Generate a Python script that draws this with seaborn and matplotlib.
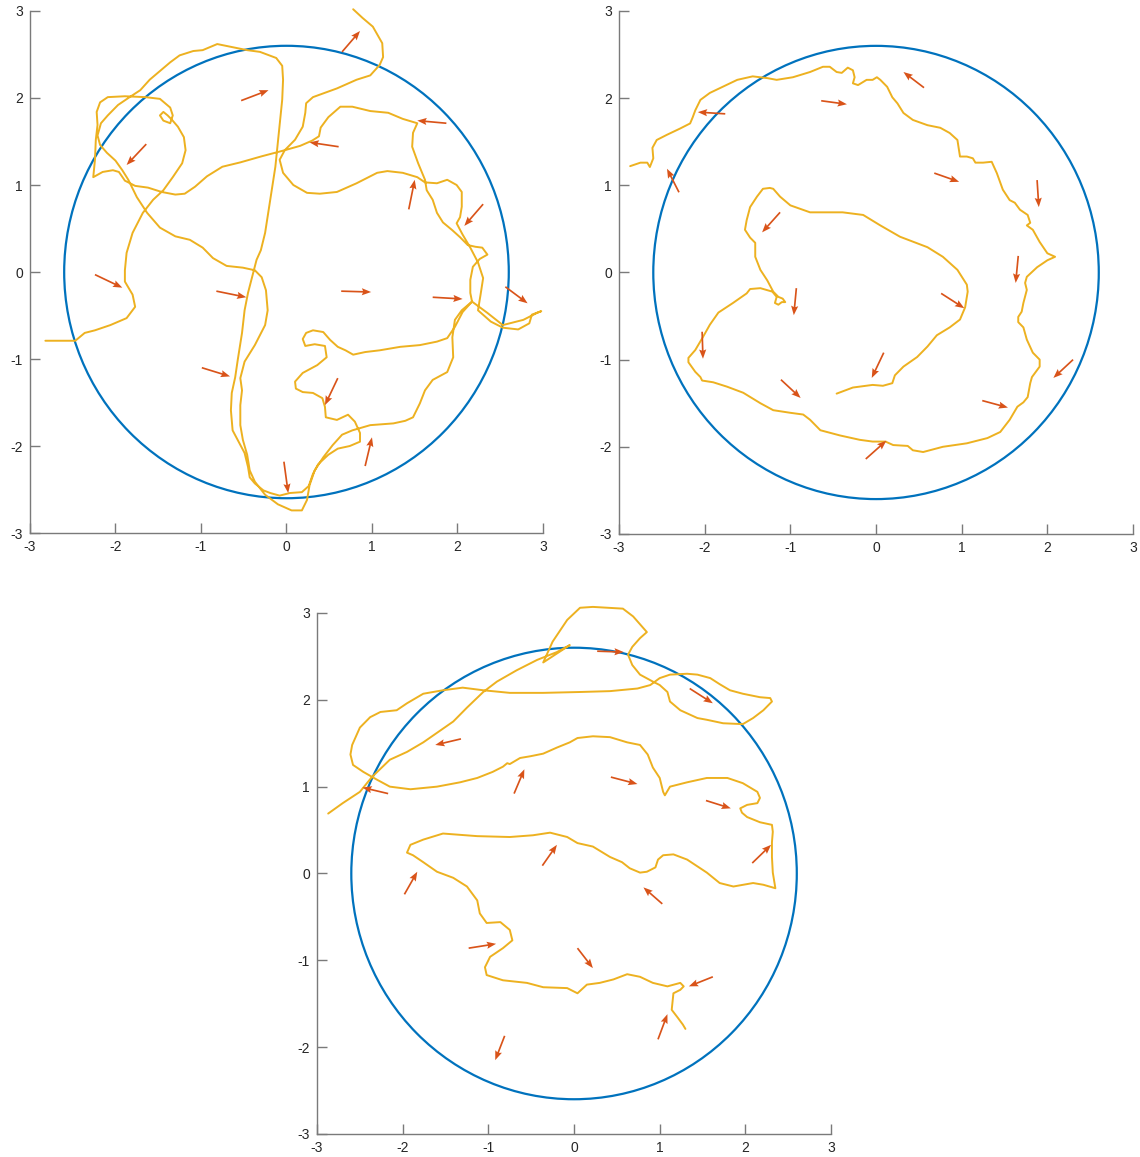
import numpy as np
import matplotlib
matplotlib.use("Agg")
import matplotlib.pyplot as plt
from matplotlib.patches import Circle
import seaborn as sns

# ---------------------------------------------------------------- data
RADIUS = 2.6
TICKS = [-3, -2, -1, 0, 1, 2, 3]

# trajectory, panel 1 (top left)
path_a = [
    (-2.82, -0.79), (-2.47, -0.79), (-2.36, -0.70), (-2.24, -0.67), (-2.06, -0.61),
    (-1.87, -0.53), (-1.77, -0.40), (-1.80, -0.26), (-1.89, -0.11), (-1.89, 0.02),
    (-1.87, 0.22), (-1.80, 0.45), (-1.68, 0.68), (-1.56, 0.83), (-1.44, 0.94),
    (-1.33, 1.09), (-1.22, 1.25), (-1.18, 1.40), (-1.20, 1.55), (-1.27, 1.67),
    (-1.34, 1.75), (-1.39, 1.80), (-1.44, 1.84), (-1.48, 1.80), (-1.44, 1.74),
    (-1.36, 1.71), (-1.33, 1.80), (-1.36, 1.89), (-1.42, 1.94), (-1.48, 1.99),
    (-1.65, 2.01), (-1.89, 2.02), (-2.09, 2.01), (-2.18, 1.95), (-2.22, 1.84),
    (-2.21, 1.69), (-2.23, 1.52), (-2.24, 1.29), (-2.26, 1.09), (-2.15, 1.15),
    (-2.03, 1.17), (-1.96, 1.15), (-1.89, 1.05), (-1.77, 0.99), (-1.62, 0.97),
    (-1.46, 0.92), (-1.30, 0.89), (-1.19, 0.90), (-1.07, 0.98), (-0.93, 1.10),
    (-0.75, 1.21), (-0.54, 1.26), (-0.29, 1.33), (-0.02, 1.40), (0.16, 1.45),
    (0.30, 1.51), (0.38, 1.56), (0.40, 1.66), (0.49, 1.78), (0.63, 1.90),
    (0.77, 1.90), (0.98, 1.85), (1.19, 1.83), (1.36, 1.76), (1.53, 1.71),
    (1.48, 1.60), (1.47, 1.44), (1.54, 1.25), (1.62, 1.06), (1.64, 0.94),
    (1.71, 0.83), (1.76, 0.68), (1.83, 0.57), (1.94, 0.48), (2.03, 0.40),
    (2.12, 0.31), (2.21, 0.29), (2.29, 0.28), (2.35, 0.20), (2.26, 0.15),
    (2.18, 0.06), (2.15, -0.09), (2.15, -0.24), (2.17, -0.34), (2.06, -0.46),
    (1.97, -0.63), (1.88, -0.76), (1.76, -0.80), (1.56, -0.84), (1.33, -0.86),
    (1.09, -0.90), (0.92, -0.92), (0.78, -0.95), (0.69, -0.90), (0.60, -0.86),
    (0.51, -0.78), (0.43, -0.69), (0.31, -0.67), (0.23, -0.70), (0.19, -0.77),
    (0.22, -0.85), (0.33, -0.83), (0.45, -0.85), (0.47, -0.98), (0.36, -1.07),
    (0.19, -1.16), (0.10, -1.26), (0.11, -1.34), (0.19, -1.38), (0.31, -1.39),
    (0.42, -1.45), (0.45, -1.55), (0.46, -1.67), (0.59, -1.70), (0.72, -1.64),
    (0.80, -1.72), (0.86, -1.85), (0.86, -1.95), (0.74, -2.00), (0.60, -2.03),
    (0.49, -2.10), (0.37, -2.21), (0.31, -2.32), (0.26, -2.46), (0.18, -2.53),
    (0.04, -2.54), (-0.08, -2.57), (-0.19, -2.54), (-0.27, -2.51), (-0.37, -2.43),
    (-0.43, -2.36), (-0.45, -2.24), (-0.49, -2.08), (-0.57, -1.93), (-0.63, -1.82),
    (-0.65, -1.59), (-0.64, -1.39), (-0.60, -1.21), (-0.57, -1.01), (-0.52, -0.70),
    (-0.49, -0.44), (-0.45, -0.24), (-0.39, -0.01), (-0.35, 0.14), (-0.30, 0.25),
    (-0.25, 0.45), (-0.19, 0.83), (-0.13, 1.21), (-0.09, 1.60), (-0.05, 1.98),
    (-0.04, 2.21), (-0.05, 2.37), (-0.12, 2.46), (-0.31, 2.53), (-0.46, 2.55),
    (-0.66, 2.59), (-0.81, 2.62), (-0.98, 2.55), (-1.09, 2.54), (-1.25, 2.49),
    (-1.36, 2.41), (-1.48, 2.31), (-1.60, 2.21), (-1.71, 2.09), (-1.85, 2.00),
    (-1.97, 1.92), (-2.09, 1.80), (-2.17, 1.71), (-2.21, 1.57), (-2.18, 1.46),
    (-2.10, 1.37), (-2.00, 1.28), (-1.92, 1.17), (-1.85, 1.06), (-1.75, 0.86),
    (-1.63, 0.68), (-1.48, 0.51), (-1.30, 0.41), (-1.13, 0.37), (-0.98, 0.28),
    (-0.86, 0.16), (-0.70, 0.07), (-0.51, 0.05), (-0.37, 0.02), (-0.29, -0.06),
    (-0.24, -0.21), (-0.22, -0.44), (-0.25, -0.61), (-0.37, -0.84), (-0.49, -1.03),
    (-0.54, -1.22), (-0.52, -1.36), (-0.54, -1.53), (-0.54, -1.76), (-0.51, -1.93),
    (-0.46, -2.10), (-0.43, -2.28), (-0.37, -2.41), (-0.25, -2.56), (-0.10, -2.67),
    (0.06, -2.74), (0.18, -2.74), (0.24, -2.62), (0.27, -2.45), (0.33, -2.28),
    (0.43, -2.13), (0.54, -1.99), (0.65, -1.87), (0.77, -1.82), (0.98, -1.76),
    (1.25, -1.74), (1.39, -1.71), (1.48, -1.67), (1.56, -1.51), (1.62, -1.36),
    (1.71, -1.24), (1.88, -1.15), (1.95, -0.98), (1.94, -0.75), (1.97, -0.55),
    (2.05, -0.44), (2.17, -0.34), (2.35, -0.47), (2.53, -0.61), (2.77, -0.55),
    (2.93, -0.47), (2.98, -0.45), (2.87, -0.49), (2.84, -0.59), (2.71, -0.66),
    (2.53, -0.64), (2.39, -0.57), (2.24, -0.44), (2.27, -0.26), (2.30, -0.07),
    (2.24, 0.11), (2.15, 0.28), (2.06, 0.43), (1.99, 0.56), (2.03, 0.63),
    (2.05, 0.75), (2.05, 0.92), (1.99, 1.00), (1.88, 1.06), (1.76, 1.02),
    (1.62, 1.03), (1.53, 1.09), (1.36, 1.14), (1.18, 1.16), (1.06, 1.14),
    (0.82, 1.02), (0.59, 0.92), (0.39, 0.90), (0.24, 0.91), (0.08, 1.00),
    (-0.04, 1.14), (-0.08, 1.29), (-0.02, 1.40), (0.10, 1.52), (0.19, 1.67),
    (0.22, 1.83), (0.23, 1.94), (0.31, 2.01), (0.59, 2.11), (0.82, 2.21),
    (0.98, 2.26), (1.09, 2.38), (1.13, 2.47), (1.12, 2.63), (1.01, 2.82),
    (0.89, 2.92), (0.78, 3.02),
]

# trajectory, panel 2 (top right)
path_b = [
    (-2.87, 1.22), (-2.75, 1.26), (-2.67, 1.26), (-2.64, 1.21), (-2.60, 1.31),
    (-2.61, 1.43), (-2.56, 1.52), (-2.44, 1.58), (-2.29, 1.65), (-2.17, 1.71),
    (-2.14, 1.78), (-2.11, 1.86), (-2.05, 1.98), (-1.94, 2.06), (-1.79, 2.13),
    (-1.62, 2.21), (-1.44, 2.25), (-1.27, 2.23), (-1.16, 2.21), (-0.97, 2.24),
    (-0.77, 2.30), (-0.62, 2.36), (-0.54, 2.36), (-0.46, 2.30), (-0.40, 2.29),
    (-0.33, 2.35), (-0.27, 2.32), (-0.25, 2.24), (-0.27, 2.17), (-0.21, 2.15),
    (-0.11, 2.21), (-0.04, 2.21), (0.01, 2.24), (0.05, 2.21), (0.13, 2.13),
    (0.19, 2.01), (0.25, 1.94), (0.32, 1.83), (0.43, 1.75), (0.60, 1.69),
    (0.75, 1.66), (0.86, 1.60), (0.95, 1.52), (0.98, 1.33), (1.06, 1.33),
    (1.13, 1.31), (1.16, 1.26), (1.25, 1.26), (1.35, 1.27), (1.41, 1.14),
    (1.48, 0.95), (1.56, 0.83), (1.62, 0.80), (1.68, 0.72), (1.77, 0.66),
    (1.80, 0.57), (1.76, 0.54), (1.83, 0.49), (1.91, 0.35), (2.00, 0.22),
    (2.09, 0.18), (2.00, 0.14), (1.88, 0.06), (1.76, -0.05), (1.74, -0.12),
    (1.76, -0.20), (1.72, -0.35), (1.70, -0.45), (1.66, -0.51), (1.66, -0.57),
    (1.72, -0.63), (1.76, -0.77), (1.83, -0.92), (1.91, -1.00), (1.91, -1.08),
    (1.82, -1.20), (1.80, -1.27), (1.77, -1.43), (1.72, -1.49), (1.65, -1.54),
    (1.56, -1.69), (1.45, -1.83), (1.30, -1.90), (1.06, -1.96), (0.78, -2.00),
    (0.55, -2.06), (0.43, -2.04), (0.37, -1.99), (0.20, -1.98), (0.11, -1.94),
    (-0.04, -1.94), (-0.19, -1.92), (-0.42, -1.87), (-0.65, -1.81), (-0.77, -1.69),
    (-0.85, -1.63), (-1.00, -1.61), (-1.20, -1.58), (-1.35, -1.50), (-1.55, -1.38),
    (-1.74, -1.31), (-1.90, -1.26), (-2.03, -1.24), (-2.05, -1.20), (-2.11, -1.14),
    (-2.19, -1.03), (-2.19, -0.98), (-2.11, -0.89), (-2.02, -0.74), (-1.94, -0.60),
    (-1.84, -0.46), (-1.67, -0.35), (-1.51, -0.24), (-1.47, -0.19), (-1.35, -0.18),
    (-1.21, -0.22), (-1.16, -0.28), (-1.18, -0.35), (-1.14, -0.37), (-1.10, -0.34),
    (-1.06, -0.34), (-1.09, -0.30), (-1.14, -0.28), (-1.20, -0.22), (-1.27, -0.09),
    (-1.35, 0.03), (-1.41, 0.18), (-1.41, 0.34), (-1.47, 0.40), (-1.53, 0.49),
    (-1.51, 0.60), (-1.47, 0.75), (-1.39, 0.87), (-1.32, 0.96), (-1.24, 0.97),
    (-1.20, 0.96), (-1.12, 0.87), (-1.00, 0.77), (-0.77, 0.69), (-0.39, 0.69),
    (-0.15, 0.66), (0.05, 0.54), (0.28, 0.41), (0.60, 0.29), (0.78, 0.18),
    (0.95, 0.03), (1.06, -0.14), (1.07, -0.22), (1.04, -0.40), (0.98, -0.54),
    (0.86, -0.63), (0.71, -0.72), (0.60, -0.85), (0.48, -0.97), (0.32, -1.08),
    (0.22, -1.18), (0.19, -1.27), (0.08, -1.30), (-0.04, -1.29), (-0.19, -1.31),
    (-0.27, -1.32), (-0.46, -1.39),
]

# trajectory, panel 3 (bottom)
path_c = [
    (-2.87, 0.69), (-2.70, 0.81), (-2.50, 0.94), (-2.36, 1.11), (-2.15, 1.31),
    (-1.95, 1.40), (-1.76, 1.51), (-1.60, 1.62), (-1.41, 1.75), (-1.25, 1.91),
    (-1.06, 2.09), (-0.90, 2.21), (-0.67, 2.34), (-0.43, 2.46), (-0.20, 2.55),
    (-0.05, 2.63), (-0.36, 2.43), (-0.25, 2.67), (-0.08, 2.92), (0.07, 3.06),
    (0.22, 3.07), (0.57, 3.05), (0.69, 2.96), (0.85, 2.78), (0.77, 2.71),
    (0.68, 2.61), (0.63, 2.52), (0.68, 2.40), (0.77, 2.29), (0.92, 2.21),
    (1.00, 2.17), (1.09, 2.09), (1.12, 1.98), (1.24, 1.88), (1.44, 1.79),
    (1.55, 1.77), (1.74, 1.73), (1.97, 1.72), (2.09, 1.79), (2.21, 1.88),
    (2.31, 1.98), (2.29, 2.02), (2.17, 2.03), (1.97, 2.07), (1.82, 2.11),
    (1.70, 2.18), (1.59, 2.25), (1.44, 2.29), (1.32, 2.30), (1.12, 2.29),
    (1.00, 2.25), (0.89, 2.17), (0.74, 2.13), (0.42, 2.10), (0.07, 2.09),
    (-0.36, 2.08), (-0.75, 2.08), (-1.06, 2.11), (-1.30, 2.14), (-1.53, 2.11),
    (-1.76, 2.07), (-1.95, 1.96), (-2.07, 1.88), (-2.26, 1.86), (-2.38, 1.80),
    (-2.50, 1.68), (-2.59, 1.48), (-2.61, 1.37), (-2.58, 1.25), (-2.46, 1.17),
    (-2.30, 1.08), (-2.15, 1.00), (-1.91, 0.97), (-1.60, 1.00), (-1.33, 1.05),
    (-1.13, 1.10), (-0.95, 1.17), (-0.83, 1.23), (-0.78, 1.27), (-0.75, 1.26),
    (-0.63, 1.33), (-0.51, 1.35), (-0.36, 1.38), (-0.20, 1.45), (-0.05, 1.51),
    (0.04, 1.56), (0.22, 1.58), (0.42, 1.57), (0.62, 1.51), (0.77, 1.48),
    (0.86, 1.37), (0.92, 1.22), (1.00, 1.10), (1.04, 0.94), (1.06, 0.90),
    (1.12, 1.00), (1.32, 1.05), (1.55, 1.10), (1.79, 1.10), (1.97, 1.04),
    (2.14, 0.94), (2.17, 0.87), (2.14, 0.81), (2.02, 0.79), (1.94, 0.75),
    (1.96, 0.70), (2.02, 0.65), (2.17, 0.59), (2.31, 0.56), (2.32, 0.48),
    (2.31, 0.36), (2.31, 0.19), (2.32, 0.01), (2.35, -0.17), (2.21, -0.13),
    (2.09, -0.11), (1.86, -0.15), (1.70, -0.11), (1.55, 0.01), (1.32, 0.16),
    (1.16, 0.22), (1.04, 0.21), (0.98, 0.16), (0.95, 0.07), (0.85, 0.02),
    (0.77, 0.01), (0.65, 0.06), (0.56, 0.13), (0.42, 0.19), (0.22, 0.31),
    (0.04, 0.35), (-0.08, 0.42), (-0.28, 0.47), (-0.48, 0.44), (-0.75, 0.42),
    (-1.13, 0.43), (-1.53, 0.46), (-1.76, 0.39), (-1.91, 0.33), (-1.95, 0.24),
    (-1.88, 0.21), (-1.76, 0.13), (-1.60, 0.02), (-1.41, -0.05), (-1.25, -0.15),
    (-1.13, -0.31), (-1.10, -0.46), (-1.02, -0.57), (-0.86, -0.56), (-0.75, -0.65),
    (-0.72, -0.77), (-0.83, -0.86), (-0.98, -0.96), (-1.04, -1.08), (-1.02, -1.17),
    (-0.83, -1.23), (-0.55, -1.26), (-0.36, -1.31), (-0.08, -1.32), (0.04, -1.38),
    (0.15, -1.28), (0.30, -1.26), (0.46, -1.22), (0.62, -1.16), (0.77, -1.19),
    (0.92, -1.26), (1.09, -1.30), (1.24, -1.26), (1.28, -1.30), (1.24, -1.34),
    (1.16, -1.38), (1.14, -1.57), (1.21, -1.66), (1.27, -1.74), (1.30, -1.79),
]

# arrows: tail (x, y) and head (x, y)
arrows_a = [
    ((0.65, 2.53), (0.86, 2.77)), ((-0.53, 1.97), (-0.21, 2.09)),
    ((-1.64, 1.47), (-1.87, 1.23)), ((0.61, 1.44), (0.27, 1.49)),
    ((1.87, 1.71), (1.53, 1.74)), ((1.43, 0.72), (1.50, 1.06)),
    ((2.30, 0.78), (2.08, 0.53)), ((-2.24, -0.03), (-1.92, -0.18)),
    ((-0.82, -0.22), (-0.47, -0.29)), ((0.64, -0.22), (0.99, -0.23)),
    ((1.71, -0.29), (2.06, -0.31)), ((2.56, -0.17), (2.82, -0.36)),
    ((-0.99, -1.10), (-0.66, -1.20)), ((0.60, -1.22), (0.45, -1.53)),
    ((0.92, -2.23), (1.00, -1.90)), ((-0.03, -2.18), (0.02, -2.54)),
]
arrows_b = [
    ((-1.76, 1.82), (-2.08, 1.84)), ((-0.64, 1.97), (-0.34, 1.93)),
    ((-2.30, 0.92), (-2.44, 1.19)), ((-1.12, 0.69), (-1.33, 0.46)),
    ((0.56, 2.12), (0.32, 2.30)), ((0.68, 1.14), (0.97, 1.04)),
    ((1.88, 1.06), (1.90, 0.75)), ((1.66, 0.19), (1.63, -0.12)),
    ((-0.93, -0.18), (-0.96, -0.49)), ((-2.03, -0.68), (-2.02, -0.99)),
    ((-1.11, -1.23), (-0.88, -1.44)), ((-0.12, -2.14), (0.12, -1.93)),
    ((0.09, -0.92), (-0.05, -1.21)), ((0.76, -0.24), (1.03, -0.41)),
    ((2.30, -1.00), (2.07, -1.21)), ((1.24, -1.47), (1.54, -1.55)),
]
arrows_c = [
    ((-2.17, 0.92), (-2.47, 0.99)), ((-1.32, 1.55), (-1.62, 1.48)),
    ((-0.70, 0.92), (-0.58, 1.20)), ((0.27, 2.56), (0.58, 2.55)),
    ((1.35, 2.13), (1.62, 1.96)), ((0.43, 1.11), (0.74, 1.03)),
    ((1.54, 0.84), (1.83, 0.75)), ((2.08, 0.12), (2.30, 0.33)),
    ((-1.98, -0.24), (-1.83, 0.02)), ((-0.37, 0.09), (-0.20, 0.33)),
    ((-1.23, -0.86), (-0.91, -0.81)), ((-0.81, -1.87), (-0.92, -2.15)),
    ((1.03, -0.35), (0.81, -0.16)), ((0.04, -0.86), (0.22, -1.09)),
    ((1.62, -1.19), (1.34, -1.30)), ((0.98, -1.91), (1.09, -1.62)),
]

# ---------------------------------------------------------------- style
CIRCLE_COLOR = "#0072BD"
PATH_COLOR = "#EDB120"
ARROW_COLOR = "#D95319"
AXIS_GRAY = "#7a7a7a"

sns.set_theme(style="ticks")
plt.rcParams["font.family"] = ["Liberation Sans", "DejaVu Sans"]
plt.rcParams["axes.unicode_minus"] = False

fig = plt.figure(figsize=(11.40, 11.57), dpi=100)
positions = [
    [0.0263, 0.5393, 0.4500, 0.4512],
    [0.5430, 0.5385, 0.4509, 0.4520],
    [0.2781, 0.0199, 0.4509, 0.4503],
]
panels = [(path_a, arrows_a), (path_b, arrows_b), (path_c, arrows_c)]

for pos, (path, arrows) in zip(positions, panels):
    ax = fig.add_axes(pos)

    ax.add_patch(Circle((0, 0), RADIUS, fill=False, edgecolor=CIRCLE_COLOR,
                        linewidth=1.6, zorder=2))

    pts = np.array(path)
    sns.lineplot(x=pts[:, 0], y=pts[:, 1], sort=False, estimator=None,
                 color=PATH_COLOR, linewidth=1.4, ax=ax, zorder=3)
    line = ax.lines[-1]
    line.set_clip_on(False)
    line.set_solid_joinstyle("round")
    line.set_solid_capstyle("round")

    arr = np.array(arrows)
    tails, heads = arr[:, 0, :], arr[:, 1, :]
    ax.quiver(tails[:, 0], tails[:, 1],
              heads[:, 0] - tails[:, 0], heads[:, 1] - tails[:, 1],
              angles="xy", scale_units="xy", scale=1, color=ARROW_COLOR,
              width=0.0033, headwidth=4.2, headlength=5.5, headaxislength=4.8,
              zorder=4)

    ax.set_xlim(-3, 3)
    ax.set_ylim(-3, 3)
    ax.set_xticks(TICKS)
    ax.set_yticks(TICKS)
    ax.set_xticklabels([str(t) for t in TICKS])
    ax.set_yticklabels([str(t) for t in TICKS])
    ax.set_xlabel("")
    ax.set_ylabel("")
    ax.set_facecolor("white")
    for side in ("top", "right"):
        ax.spines[side].set_visible(False)
    for side in ("left", "bottom"):
        ax.spines[side].set_color(AXIS_GRAY)
        ax.spines[side].set_linewidth(1.0)
    ax.tick_params(direction="in", length=7, width=1.0, color=AXIS_GRAY,
                   labelsize=10, labelcolor="#262626", pad=5)

fig.savefig("out.png", dpi=100, facecolor="white")
